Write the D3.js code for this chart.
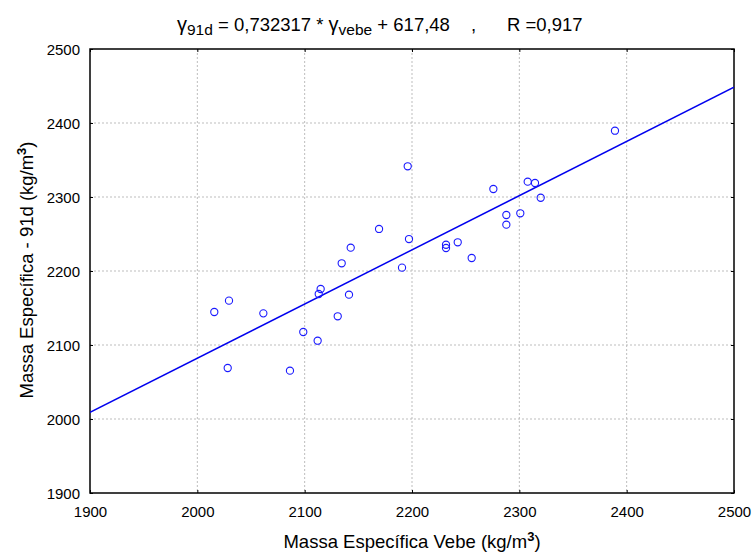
<!DOCTYPE html>
<html>
<head>
<meta charset="utf-8">
<script src="https://cdn.jsdelivr.net/npm/d3@7"></script>
<style>
  body { margin: 0; background: #fff; }
  svg { display: block; font-family: "Liberation Sans", Arial, Helvetica, sans-serif; }
</style>
</head>
<body>
<svg id="chart" width="752" height="557"></svg>
<script>
// ---- data ----
const vebe = [2015.8, 2029.5, 2028.3, 2061.5, 2086.3, 2098.7, 2112.1, 2113.1, 2114.9, 2130.8,
              2134.5, 2141.3, 2142.9, 2169.3, 2190.7, 2196.0, 2197.2, 2231.7, 2231.7, 2242.6,
              2255.6, 2275.8, 2287.9, 2287.9, 2300.9, 2307.8, 2314.6, 2319.9, 2389.1];
const d91 =  [2144.6, 2159.9, 2068.9, 2142.8, 2065.3, 2117.6, 2105.8, 2168.9, 2175.7, 2138.8,
              2210.4, 2168.0, 2231.5, 2256.8, 2204.5, 2341.5, 2243.2, 2235.5, 2231.1, 2238.8,
              2217.6, 2310.8, 2275.7, 2262.6, 2278.0, 2320.7, 2318.9, 2299.0, 2389.6];
const slope = 0.732317;
const intercept = 617.48;
const xTicks = [1900, 2000, 2100, 2200, 2300, 2400, 2500];
const yTicks = [1900, 2000, 2100, 2200, 2300, 2400, 2500];
const xDomain = [1900, 2500];
const yDomain = [1900, 2500];

// ---- layout ----
const L = 90, R = 734, T = 49, B = 493;
const svg = d3.select("#chart");
const x = d3.scaleLinear().domain(xDomain).range([L, R]);
const y = d3.scaleLinear().domain(yDomain).range([B, T]);

// grid
const grid = svg.append("g");
grid.selectAll("line.gx").data(xTicks.slice(1, -1)).join("line")
  .attr("x1", d => x(d)).attr("x2", d => x(d)).attr("y1", T).attr("y2", B)
  .attr("stroke", "#bdbdbd").attr("stroke-width", 1).attr("stroke-dasharray", "2,2");
grid.selectAll("line.gy").data(yTicks.slice(1, -1)).join("line")
  .attr("y1", d => y(d)).attr("y2", d => y(d)).attr("x1", L).attr("x2", R)
  .attr("stroke", "#bdbdbd").attr("stroke-width", 1).attr("stroke-dasharray", "2,2");

// axes (ticks inward)
const xAxisB = d3.axisBottom(x).tickValues(xTicks).tickSize(-3).tickFormat(d3.format("d")).tickPadding(10);
const xAxisT = d3.axisTop(x).tickValues(xTicks).tickSize(-3).tickFormat("");
const yAxisL = d3.axisLeft(y).tickValues(yTicks).tickSize(-3).tickFormat(d3.format("d")).tickPadding(10);
const yAxisR = d3.axisRight(y).tickValues(yTicks).tickSize(-3).tickFormat("");

function style(g) {
  g.select(".domain").remove();
  g.selectAll(".tick line").attr("stroke", "#000").attr("stroke-width", 1);
  g.selectAll(".tick text").attr("fill", "#000").style("font-size", "15px")
    .style("font-family", '"Liberation Sans", Arial, sans-serif');
}
const gxB = svg.append("g").attr("transform", `translate(0,${B})`).call(xAxisB).call(style);
gxB.selectAll(".tick text").attr("dy", null).attr("y", 24);
svg.append("g").attr("transform", `translate(0,${T})`).call(xAxisT).call(style);
const gyL = svg.append("g").attr("transform", `translate(${L},0)`).call(yAxisL).call(style);
gyL.selectAll(".tick text").attr("x", -10).attr("dy", "0.36em");
svg.append("g").attr("transform", `translate(${R},0)`).call(yAxisR).call(style);

// frame
svg.append("rect").attr("x", L).attr("y", T).attr("width", R - L).attr("height", B - T)
  .attr("fill", "none").attr("stroke", "#000").attr("stroke-width", 1.5);

// regression line
svg.append("clipPath").attr("id", "clip").append("rect")
  .attr("x", L).attr("y", T).attr("width", R - L).attr("height", B - T);
const lineData = xDomain.map(v => [v, slope * v + intercept]);
svg.append("path").datum(lineData)
  .attr("clip-path", "url(#clip)")
  .attr("d", d3.line().x(d => x(d[0])).y(d => y(d[1])))
  .attr("fill", "none").attr("stroke", "#0000ee").attr("stroke-width", 1.5);

// points
svg.append("g").selectAll("circle").data(vebe.map((v, i) => [v, d91[i]])).join("circle")
  .attr("cx", d => x(d[0])).attr("cy", d => y(d[1])).attr("r", 3.6)
  .attr("fill", "none").attr("stroke", "#1a1aff").attr("stroke-width", 1.1);

// title
const title = svg.append("text").attr("x", 177).attr("y", 31).style("font-size", "18.5px").attr("fill", "#000");
title.append("tspan").style("font-size", "20px").text("γ");
title.append("tspan").attr("dy", 4).style("font-size", "15.5px").text("91d");
title.append("tspan").attr("dy", -4).text(" = 0,732317 * ");
title.append("tspan").style("font-size", "20px").text("γ");
title.append("tspan").attr("dy", 4).style("font-size", "15.5px").text("vebe");
title.append("tspan").attr("dy", -4).text(" + 617,48");
svg.append("text").attr("x", 471).attr("y", 31).style("font-size", "18.5px").text(",");
svg.append("text").attr("x", 507).attr("y", 31).style("font-size", "18.5px").text("R =0,917");

// axis labels
const xl = svg.append("text").attr("x", 412).attr("y", 548).attr("text-anchor", "middle")
  .style("font-size", "18.5px");
xl.append("tspan").text("Massa Específica Vebe (kg/m");
xl.append("tspan").attr("dy", -7).style("font-size", "13px").style("font-weight", "bold").text("3");
xl.append("tspan").attr("dy", 7).text(")");

const yl = svg.append("text").attr("transform", `translate(33,270) rotate(-90)`)
  .attr("text-anchor", "middle").style("font-size", "18.5px");
yl.append("tspan").text("Massa Específica - 91d (kg/m");
yl.append("tspan").attr("dy", -7).style("font-size", "13px").style("font-weight", "bold").text("3");
yl.append("tspan").attr("dy", 7).text(")");
</script>
</body>
</html>
